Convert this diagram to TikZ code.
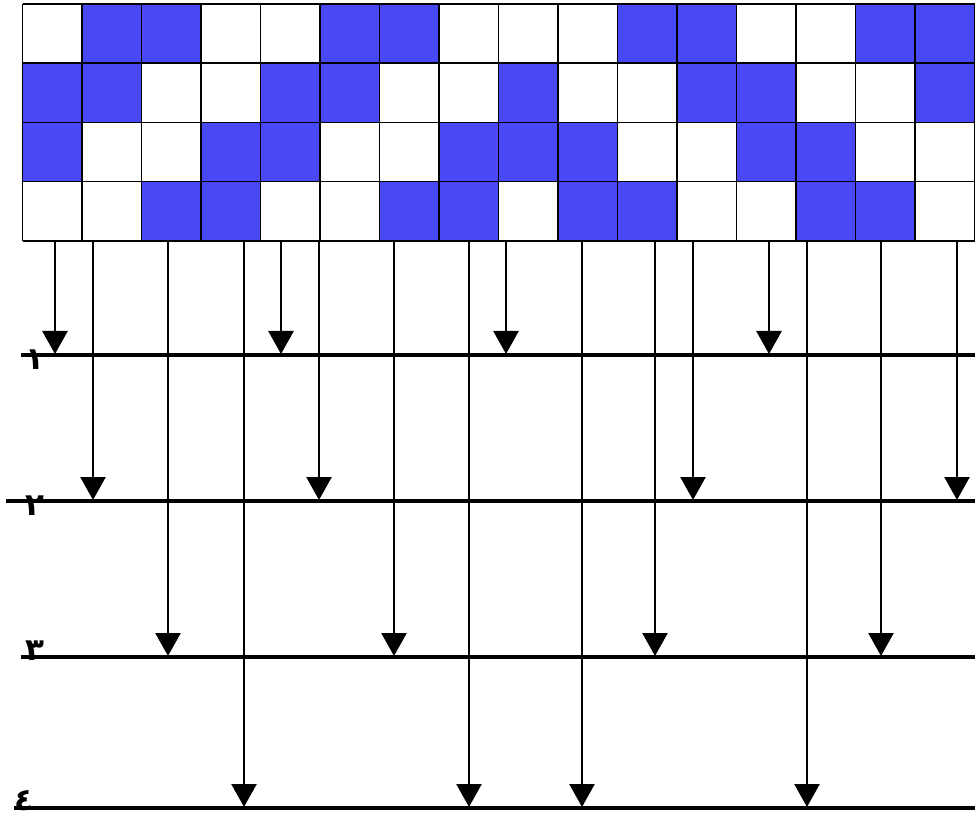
\documentclass[tikz,border=0pt]{standalone}
\usepackage{fontspec}
\usetikzlibrary{arrows.meta}
\TeXXeTstate=1
\newfontfamily\arabicfont[Script=Arabic]{DejaVu Sans}
\definecolor{cellblue}{RGB}{72,72,245}

\begin{document}
\begin{tikzpicture}[x=1pt,y=-1pt,
  gridline/.style={line width=1.5pt,black},
  shaftline/.style={line width=4pt},
  liftarrow/.style={line width=2.6pt,-{Triangle[width=25pt,length=23pt]},shorten >=1pt},
  shaftlabel/.style={font=\arabicfont\bfseries\fontsize{31}{31}\selectfont,inner sep=0pt}]
  \useasboundingbox (0,0) rectangle (975,818);

  % Pattern grid (1 = blue cell)
  \foreach \row [count=\r] in {{0,1,1,0,0,1,1,0,0,0,1,1,0,0,1,1},
                              {1,1,0,0,1,1,0,0,1,0,0,1,1,0,0,1},
                              {1,0,0,1,1,0,0,1,1,1,0,0,1,1,0,0},
                              {0,0,1,1,0,0,1,1,0,1,1,0,0,1,1,0}}
    \foreach \v [count=\c] in \row {
      \ifnum\v=1
        \fill[cellblue] ({22.7+(\c-1)*59.5},{4+(\r-1)*59.2}) rectangle ++(59.5,59.2);
      \fi
    }
  \foreach \c in {0,...,16}
    \draw[gridline] ({22.7+\c*59.5},4) -- ({22.7+\c*59.5},240.8);
  \foreach \r in {0,...,4}
    \draw[gridline] (22.7,{4+\r*59.2}) -- (974.7,{4+\r*59.2});

  % Shaft lines
  \coordinate (shaft1-w) at (21,355);  \coordinate (shaft1-e) at (975,355);
  \coordinate (shaft2-w) at (6,501);   \coordinate (shaft2-e) at (975,501);
  \coordinate (shaft3-w) at (21,657);  \coordinate (shaft3-e) at (975,657);
  \coordinate (shaft4-w) at (14,808);  \coordinate (shaft4-e) at (975,808);
  \foreach \k in {1,...,4}
    \draw[shaftline] (shaft\k-w) -- (shaft\k-e);

  % Arrows from each column to its shaft
  \foreach \x/\k [count=\i] in {55/1,93/2,168/3,244/4,281/1,319/2,394/3,469/4,
                                506/1,582/4,655/3,693/2,769/1,807/4,881/3,957/2} {
    \coordinate (col\i) at (\x,240);
    \draw[liftarrow] (col\i) -- (col\i |- shaft\k-w);
  }

  % Shaft numbers
  \node[shaftlabel] (num1) at (35,360) {\beginR ١\endR};
  \node[shaftlabel] (num2) at (35,506) {\beginR ٢\endR};
  \node[shaftlabel] (num3) at (35,651) {\beginR ٣\endR};
  \node[shaftlabel] (num4) at (24,801) {\beginR ٤\endR};
\end{tikzpicture}
\end{document}
